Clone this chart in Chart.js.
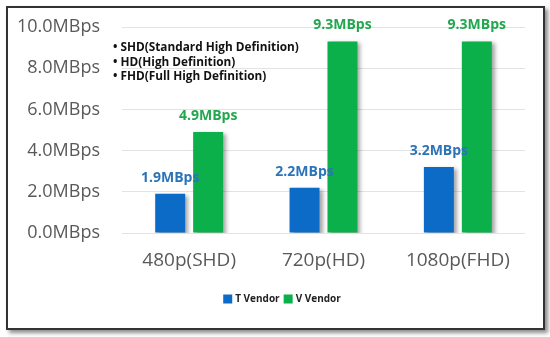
<!DOCTYPE html>
<html>
<head>
<meta charset="utf-8">
<script src="https://cdn.jsdelivr.net/npm/chart.js@4"></script>
<style>
  html, body { margin: 0; padding: 0; background: #fff; }
  body { width: 550px; height: 337px; position: relative; overflow: hidden; }
  #frame {
    position: absolute; left: 6px; top: 6px; width: 535px; height: 320px;
    border: 2px solid #333; box-shadow: 3px 3px 4px rgba(0,0,0,0.45); background: #fff;
  }
  #chart { display: block; }
</style>
</head>
<body>
<div id="frame"><canvas id="chart" width="535" height="320"></canvas></div>
<script>
const categories = ["480p(SHD)", "720p(HD)", "1080p(FHD)"];
const tVendor = [1.9, 2.2, 3.2];
const vVendor = [4.9, 9.3, 9.3];
const seriesNames = ["T Vendor", "V Vendor"];
const notes = [
  "• SHD(Standard High Definition)",
  "• HD(High Definition)",
  "• FHD(Full High Definition)"
];

const BLUE = '#0b6bc6';
const GREEN = '#0bb04b';
const labelColors = ['#2b74b8', '#22a64e'];

function fmt(v) {
  return v.toFixed(1) + 'MBps';
}

const barShadow = {
  id: 'barShadow',
  beforeDatasetsDraw(chart) {
    const ctx = chart.ctx;
    ctx.save();
    ctx.shadowColor = 'rgba(0,0,0,0.35)';
    ctx.shadowOffsetX = 3;
    ctx.shadowOffsetY = 2;
    ctx.shadowBlur = 4;
  },
  afterDatasetsDraw(chart) {
    chart.ctx.restore();
  }
};

const valueLabels = {
  id: 'valueLabels',
  afterDatasetsDraw(chart) {
    const ctx = chart.ctx;
    ctx.save();
    ctx.font = 'bold 14px "Open Sans", sans-serif';
    ctx.textAlign = 'center';
    ctx.textBaseline = 'middle';
    chart.data.datasets.forEach((ds, i) => {
      const meta = chart.getDatasetMeta(i);
      ctx.fillStyle = labelColors[i];
      meta.data.forEach((bar, j) => {
        ctx.fillText(fmt(ds.data[j]), bar.x, bar.y - 16);
      });
    });
    ctx.restore();
  }
};

const noteText = {
  id: 'noteText',
  afterDraw(chart) {
    const ctx = chart.ctx;
    ctx.save();
    ctx.font = 'bold 11.8px "Open Sans", sans-serif';
    ctx.fillStyle = '#111';
    ctx.textAlign = 'left';
    ctx.textBaseline = 'middle';
    notes.forEach((t, i) => {
      ctx.fillText(t, 105, 40 + i * 14.5);
    });
    ctx.restore();
  }
};

// legend drawn by hand so it can sit where the original one sits
const bottomLegend = {
  id: 'bottomLegend',
  afterDraw(chart) {
    const ctx = chart.ctx;
    ctx.save();
    ctx.font = 'bold 10px "Open Sans", sans-serif';
    ctx.textBaseline = 'middle';
    ctx.textAlign = 'left';
    const box = 9, gap = 3, itemGap = 4, y = 291;
    const widths = chart.data.datasets.map(ds => box + gap + ctx.measureText(ds.label).width);
    const total = widths.reduce((a, b) => a + b, 0) + itemGap * (widths.length - 1);
    let x = 274 - total / 2;
    chart.data.datasets.forEach((ds, i) => {
      ctx.fillStyle = ds.backgroundColor;
      ctx.fillRect(x, y - box / 2, box, box);
      ctx.fillStyle = '#222';
      ctx.fillText(ds.label, x + box + gap, y + 0.5);
      x += widths[i] + itemGap;
    });
    ctx.restore();
  }
};

new Chart(document.getElementById('chart'), {
  type: 'bar',
  data: {
    labels: categories,
    datasets: [
      { label: seriesNames[0], data: tVendor, backgroundColor: BLUE },
      { label: seriesNames[1], data: vVendor, backgroundColor: GREEN }
    ]
  },
  options: {
    responsive: false,
    animation: false,
    layout: { padding: { left: 0, right: 18, top: 19, bottom: 48 } },
    datasets: { bar: { categoryPercentage: 0.565, barPercentage: 0.79 } },
    scales: {
      x: {
        afterFit(scale) { scale.height = 47; },
        grid: { display: false },
        border: { display: false },
        ticks: { color: '#595959', font: { family: '"Open Sans", sans-serif', size: 19 }, padding: 8 }
      },
      y: {
        min: 0,
        max: 10,
        afterFit(scale) {
          scale.width = 114;
          scale.paddingTop = 0;
        },
        grid: { color: '#e3e3e3', lineWidth: 1, drawTicks: false },
        border: { display: false },
        ticks: {
          stepSize: 2,
          color: '#595959',
          padding: 22,
          font: { family: '"Open Sans", sans-serif', size: 18 },
          callback: v => fmt(v)
        }
      }
    },
    plugins: {
      legend: { display: false },
      tooltip: { enabled: false }
    }
  },
  plugins: [barShadow, valueLabels, noteText, bottomLegend]
});
</script>
</body>
</html>
